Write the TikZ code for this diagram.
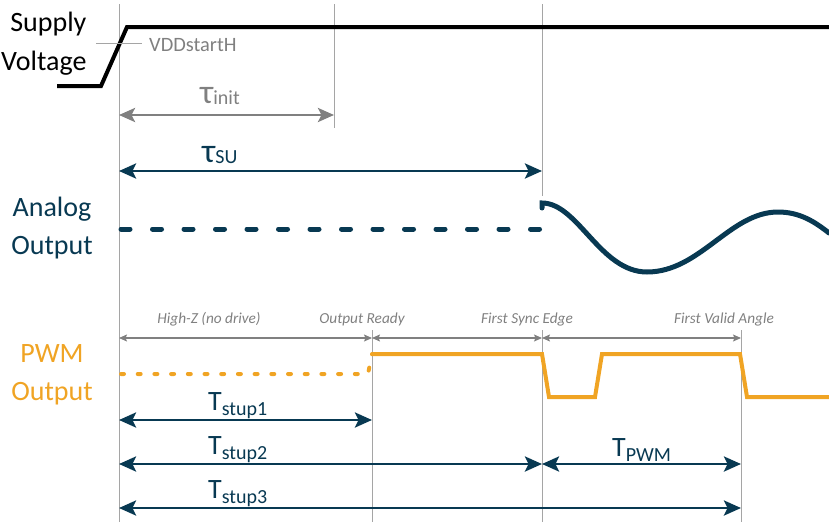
\documentclass[tikz,border=0pt]{standalone}
\usepackage{fontspec}
\setmainfont{Carlito}
\usetikzlibrary{arrows.meta}

\definecolor{sigblue}{RGB}{8,57,82}
\definecolor{pwmorange}{RGB}{240,164,36}
\definecolor{guidegray}{RGB}{165,165,165}
\definecolor{labelgray}{RGB}{128,128,128}

\newcommand{\lowsub}[2][-5pt]{\raisebox{#1}{\fontsize{20}{24}\selectfont #2}}

\begin{document}
\begin{tikzpicture}[x=1pt, y=-1pt,
    guide/.style = {draw=guidegray, line width=0.8pt},
    bigtext/.style = {font=\fontsize{28}{34}\selectfont, anchor=base},
    notetext/.style = {font=\fontsize{15.3}{18}\selectfont\itshape, text=labelgray, anchor=base},
    span/.style = {draw=sigblue, line width=2.8pt, {Stealth[length=17pt,width=15pt,inset=3.5pt]}-{Stealth[length=17pt,width=15pt,inset=3.5pt]}},
    grayspan/.style = {draw=labelgray, line width=2.8pt, {Stealth[length=16pt,width=14pt,inset=3.5pt]}-{Stealth[length=16pt,width=14pt,inset=3.5pt]}},
    notespan/.style = {draw=labelgray, line width=1.1pt, {Stealth[length=8pt,width=7pt,inset=1.5pt]}-{Stealth[length=8pt,width=7pt,inset=1.5pt]}}]
    \useasboundingbox (0,0) rectangle (829,522);

    \draw [guide] (119,4) -- (119,522);
    \draw [guide] (334,4) -- (334,128);
    \draw [guide] (542,4) -- (542,196);
    \draw [guide] (372,330) -- (372,522);
    \draw [guide] (542,330) -- (542,522);
    \draw [guide] (741,330) -- (741,522);

    % supply voltage
    \node [bigtext, anchor=base east] (supply) at (90,31) {Supply};
    \node [bigtext, anchor=base east] (voltage) at (90,70) {Voltage};
    \draw [line width=4pt, line join=miter] (57,86) -- (101,86) -- (127,27) -- (829,27);
    \draw [guide] (96,43) -- (142,43);
    \node [anchor=base west, inner sep=0pt, text=labelgray, font=\fontsize{20.4}{24}\selectfont] (vdd) at (149,51) {VDDstartH};

    \draw [grayspan] (119,115) -- (334,115);
    \node [bigtext, anchor=base west, inner sep=0pt, text=labelgray] (tauinit) at (200,103) {{\fontsize{34}{40}\selectfont τ}\lowsub[-1pt]{init}};

    \draw [span] (119,171) -- (542,171);
    \node [bigtext, anchor=base west, inner sep=0pt, text=sigblue] (tausu) at (202,162) {{\fontsize{34}{40}\selectfont τ}\lowsub[-1pt]{SU}};

    % analog output
    \node [bigtext, text=sigblue] (analog) at (52,216) {Analog};
    \node [bigtext, text=sigblue] (aout) at (52,254) {Output};
    \draw [sigblue, line width=5pt, line cap=round, dash pattern=on 9pt off 22.5pt] (121,229) -- (540,229);
    \draw [sigblue, line width=5pt, line cap=round] (542,208) -- (542,203) .. controls (578,203) and (600,272) .. (647,272) .. controls (700,272) and (730,212) .. (778,212) .. controls (800,212) and (815,222) .. (829,233);

    % pwm output
    \node [notetext] (highz) at (209,323) {High-Z (no drive)};
    \node [notetext] (ready) at (362,323) {Output Ready};
    \node [notetext] (sync) at (527,323) {First Sync Edge};
    \node [notetext] (valid) at (724,323) {First Valid Angle};
    \draw [notespan] (119,338) -- (372,338);
    \draw [notespan] (372,338) -- (542,338);
    \draw [notespan] (542,338) -- (741,338);

    \node [bigtext, text=pwmorange] (pwm) at (52,362) {PWM};
    \node [bigtext, text=pwmorange] (pout) at (52,400) {Output};
    \draw [pwmorange, line width=4pt, line cap=round, dash pattern=on 3pt off 13.7pt] (121,374) -- (368,374) -- (372,354);
    \draw [pwmorange, line width=4pt, line join=miter] (372,354) -- (542,354) -- (549,397) -- (595,397) -- (602,354) -- (740,354) -- (747,397) -- (829,397);

    % startup times
    \draw [span] (119,420) -- (372,420);
    \node [bigtext, anchor=base west, inner sep=0pt, text=sigblue] (tstup1) at (208,410) {T\lowsub{stup1}};
    \draw [span] (119,464) -- (542,464);
    \node [bigtext, anchor=base west, inner sep=0pt, text=sigblue] (tstup2) at (208,454) {T\lowsub{stup2}};
    \draw [span] (542,464) -- (741,464);
    \node [bigtext, anchor=base west, inner sep=0pt, text=sigblue] (tpwm) at (612,456) {T\lowsub{PWM}};
    \draw [span] (119,508) -- (741,508);
    \node [bigtext, anchor=base west, inner sep=0pt, text=sigblue] (tstup3) at (208,498) {T\lowsub{stup3}};
\end{tikzpicture}
\end{document}
